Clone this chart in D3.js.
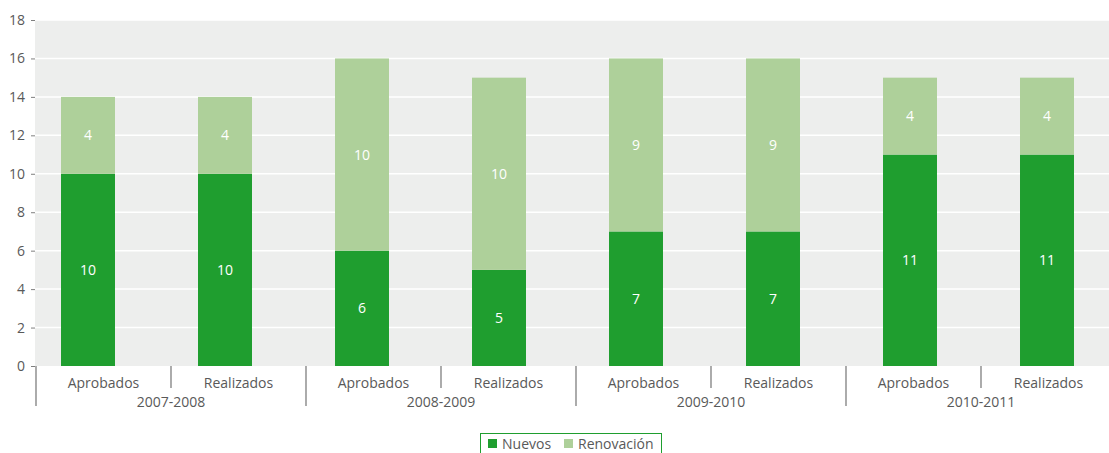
<!DOCTYPE html>
<html><head><meta charset="utf-8">
<script src="https://cdn.jsdelivr.net/npm/d3@7"></script>
<style>body{margin:0;background:#fff;}svg{display:block;font-family:"Open Sans","Liberation Sans",sans-serif;}</style>
</head><body><svg id="c" width="1109" height="453"></svg>
<script>
const groups = ["2007-2008","2008-2009","2009-2010","2010-2011"];
const subs = ["Aprobados","Realizados"];
const nuevos = [10,10,6,5,7,7,11,11];
const renovacion = [4,4,10,10,9,9,4,4];
const yTicks = [0,2,4,6,8,10,12,14,16,18];
const seriesNames = ["Nuevos","Renovación"];
const colors = ["#1f9e2f","#aed09a"];

const svg = d3.select("#c");
const cats = d3.range(8);
const y = d3.scaleLinear().domain([0,18]).range([366,20]);
const xBar = d3.scaleBand().domain(cats).range([19.5,1115.5]).paddingInner(0.606).paddingOuter(0.303);
const xAx = d3.scaleBand().domain(cats).range([36,1116]);
const xGrp = d3.scaleBand().domain(groups).range([36,1116]);

svg.append("rect").attr("x",35).attr("y",y(18)).attr("width",1109-35).attr("height",y(0)-y(18)).attr("fill","#edeeed");
svg.append("g").selectAll("line").data(yTicks.slice(1)).join("line")
  .attr("x1",35).attr("x2",1109).attr("y1",d=>y(d)).attr("y2",d=>y(d)).attr("stroke","#fff").attr("stroke-width",1.5);

const ya = svg.append("g").attr("transform","translate(35,0)").call(d3.axisLeft(y).tickValues(yTicks).tickSize(4).tickPadding(6));
ya.select(".domain").remove();
ya.selectAll("line").attr("stroke","#7f7f7f");
ya.selectAll("text").attr("fill","#595959").style("font-size","14px").style("font-family","'Open Sans','Liberation Sans',sans-serif");

const stacked = d3.stack().keys([0,1]).value((d,k)=>k===0?nuevos[d]:renovacion[d])(cats);
stacked.forEach((s,si)=>{
  const g = svg.append("g");
  g.selectAll("rect").data(s).join("rect")
    .attr("x",d=>xBar(d.data)).attr("width",xBar.bandwidth())
    .attr("y",d=>y(d[1])).attr("height",d=>y(d[0])-y(d[1])).attr("fill",colors[si]);
  g.selectAll("text").data(s).join("text")
    .attr("x",d=>xBar(d.data)+xBar.bandwidth()/2).attr("y",d=>(y(d[0])+y(d[1]))/2+5)
    .attr("text-anchor","middle").attr("fill","#fff").style("font-size","14px")
    .text(d=>d[1]-d[0]);
});

const ax = svg.append("g");
ax.selectAll("line.s").data(cats).join("line").attr("class","s")
  .attr("x1",d=>xAx(d)).attr("x2",d=>xAx(d)).attr("y1",366).attr("y2",d=>d%2===0?406:388)
  .attr("stroke","#7f7f7f").attr("stroke-width",1.3);
ax.selectAll("text.s").data(cats).join("text").attr("class","s")
  .attr("x",d=>xAx(d)+xAx.bandwidth()/2).attr("y",388).attr("text-anchor","middle")
  .attr("fill","#595959").style("font-size","14px").text(d=>subs[d%2]);
ax.selectAll("text.g").data(groups).join("text").attr("class","g")
  .attr("x",d=>xGrp(d)+xGrp.bandwidth()/2).attr("y",407).attr("text-anchor","middle")
  .attr("fill","#595959").style("font-size","14px").text(d=>d);

const lg = svg.append("g");
lg.append("rect").attr("x",480.5).attr("y",433.5).attr("width",181).attr("height",24).attr("fill","#fff").attr("stroke","#1f9e2f");
const items = [{x:488,tx:502},{x:564,tx:578}];
items.forEach((it,i)=>{
  lg.append("rect").attr("x",it.x).attr("y",439).attr("width",9).attr("height",9).attr("fill",colors[i]);
  lg.append("text").attr("x",it.tx).attr("y",448.5).attr("fill","#595959").style("font-size","14px").text(seriesNames[i]);
});
</script></body></html>
